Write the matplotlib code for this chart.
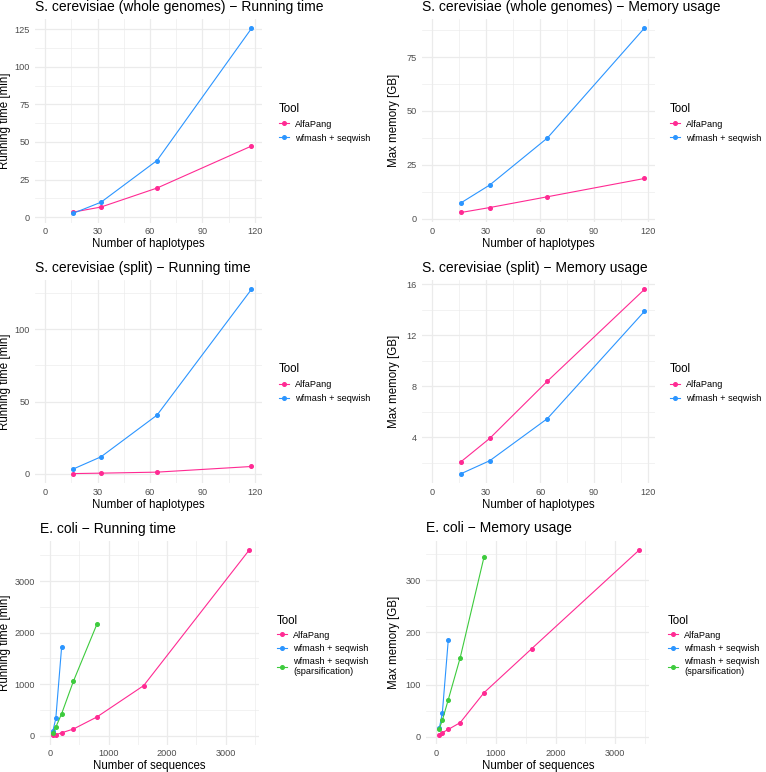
import matplotlib
matplotlib.use("Agg")
import matplotlib.pyplot as plt
import numpy as np

plt.rcParams['font.family'] = ['Liberation Sans', 'DejaVu Sans']

# ---------------- data ----------------
haplotypes = [16, 32, 64, 118]
whole_time_alfapang = [3.4, 6.8, 19.4, 47.3]
whole_time_wfmash = [2.6, 10.0, 37.7, 125.4]
whole_mem_alfapang = [2.8, 5.1, 10.1, 18.6]
whole_mem_wfmash = [7.3, 15.6, 37.4, 88.5]

split_time_alfapang = [0.2, 0.5, 1.2, 5.1]
split_time_wfmash = [3.3, 11.8, 40.6, 127.6]
split_mem_alfapang = [2.09, 3.92, 8.39, 15.58]
split_mem_wfmash = [1.15, 2.17, 5.46, 13.86]

ecoli_seqs_alfapang = [50, 100, 200, 400, 800, 1600, 3400]
ecoli_seqs_wfmash = [50, 100, 200]
ecoli_seqs_sparse = [50, 100, 200, 400, 800]
ecoli_time_alfapang = [8, 20, 58, 130, 363, 972, 3597]
ecoli_time_wfmash = [91, 337, 1730]
ecoli_time_sparse = [58, 168, 428, 1056, 2158]
ecoli_mem_alfapang = [3, 7.7, 14, 27, 84.5, 169, 358]
ecoli_mem_wfmash = [16.6, 44.8, 185.5]
ecoli_mem_sparse = [15.4, 31.4, 71, 151.6, 345]

tools = ["AlfaPang", "wfmash + seqwish", "wfmash + seqwish\n(sparsification)"]
colors = ["#FF2A93", "#2B95FF", "#3DCB3D"]

# ---------------- layout ----------------
W, H = 766, 772
fig = plt.figure(figsize=(W / 100, H / 100), dpi=100)
fig.patch.set_facecolor("white")

FS_TITLE, FS_AXT, FS_TICK = 10, 8.3, 6.6

def rect(l, r, t, b):
    return [l / W, 1 - b / H, (r - l) / W, (b - t) / H]

GRID = "#EBEBEB"
TICKC = "#4D4D4D"

def style(ax, xmaj, xmin_, ymaj, ymin_, xlabel, ylabel, title, xs, ylab_x, xlab_y, box):
    l, r, t, b = box
    ax.set_facecolor("white")
    for s in ax.spines.values():
        s.set_visible(False)
    allx = np.concatenate([np.asarray(v, float) for v in xs] + [np.array([0.0])])
    lo, hi = allx.min(), allx.max()
    pad = 0.05 * (hi - lo)
    ax.set_xlim(lo - pad, hi + pad)
    ax.set_xticks(xmaj)
    ax.set_xticks(xmin_, minor=True)
    ax.set_yticks(ymaj)
    ax.set_yticks(ymin_, minor=True)
    ax.grid(True, which="major", color=GRID, lw=0.9, zorder=0)
    ax.grid(True, which="minor", color=GRID, lw=0.45, zorder=0)
    ax.set_axisbelow(True)
    ax.tick_params(which="both", length=0, labelsize=FS_TICK, labelcolor=TICKC)
    ax.tick_params(axis="y", pad=3.8)
    ax.tick_params(axis="x", pad=3.5)
    ax.set_xlabel(xlabel, fontsize=FS_AXT, va="center")
    ax.xaxis.set_label_coords(0.5, -(xlab_y - b) / (b - t))
    ax.set_ylabel(ylabel, fontsize=FS_AXT, va="center")
    ax.yaxis.set_label_coords(-(l - ylab_x) / (r - l), 0.5)
    ax.set_title(title, loc="left", fontsize=FS_TITLE, pad=6)

def draw(ax, xs, ys, n):
    for i in range(n):
        ax.plot(xs[i], ys[i], color=colors[i], lw=0.8, marker="o", ms=2.6,
                label=tools[i], zorder=3)

def legend(ax, x, y, spacing):
    leg = ax.legend(loc="upper left", bbox_to_anchor=(x / W, 1 - y / H),
                    bbox_transform=fig.transFigure, frameon=False, title="Tool",
                    alignment="left", fontsize=FS_TICK, title_fontsize=FS_AXT,
                    handlelength=1.1, handletextpad=0.65, labelspacing=spacing,
                    borderpad=0, borderaxespad=0)
    for t in leg.get_texts():
        t.set_linespacing(1.1)
    return leg

xmaj_h = [0, 30, 60, 90, 120]
xmin_h = [15, 45, 75, 105]
xmaj_e = [0, 1000, 2000, 3000]
xmin_e = [500, 1500, 2500, 3500]

# Panel 1
box = (34.7, 261.8, 19.2, 222.6)
ax = fig.add_axes(rect(*box))
xs = [haplotypes, haplotypes]
draw(ax, xs, [whole_time_alfapang, whole_time_wfmash], 2)
style(ax, xmaj_h, xmin_h, [0, 25, 50, 75, 100, 125], [12.5, 37.5, 62.5, 87.5, 112.5],
      "Number of haplotypes", "Running time [min]",
      "S. cerevisiae (whole genomes) \u2212 Running time", xs, 5.0, 244.0, box)
legend(ax, 279, 102.5, 0.55)

# Panel 2
box = (421.7, 655.0, 18.9, 221.7)
ax = fig.add_axes(rect(*box))
draw(ax, xs, [whole_mem_alfapang, whole_mem_wfmash], 2)
style(ax, xmaj_h, xmin_h, [0, 25, 50, 75], [12.5, 37.5, 62.5, 87.5],
      "Number of haplotypes", "Max memory [GB]",
      "S. cerevisiae (whole genomes) \u2212 Memory usage", xs, 394.5, 244.0, box)
legend(ax, 670, 102.5, 0.55)

# Panel 3
box = (34.7, 261.8, 280.1, 482.8)
ax = fig.add_axes(rect(*box))
draw(ax, xs, [split_time_alfapang, split_time_wfmash], 2)
style(ax, xmaj_h, xmin_h, [0, 50, 100], [25, 75, 125],
      "Number of haplotypes", "Running time [min]",
      "S. cerevisiae (split) \u2212 Running time", xs, 5.0, 505.0, box)
legend(ax, 279, 363, 0.55)

# Panel 4
box = (421.7, 655.0, 280.2, 482.9)
ax = fig.add_axes(rect(*box))
draw(ax, xs, [split_mem_alfapang, split_mem_wfmash], 2)
style(ax, xmaj_h, xmin_h, [4, 8, 12, 16], [2, 6, 10, 14],
      "Number of haplotypes", "Max memory [GB]",
      "S. cerevisiae (split) \u2212 Memory usage", xs, 394.5, 505.0, box)
legend(ax, 670, 363, 0.55)

# Panel 5
box = (40.0, 259.0, 541.0, 744.6)
ax = fig.add_axes(rect(*box))
xs = [ecoli_seqs_alfapang, ecoli_seqs_wfmash, ecoli_seqs_sparse]
draw(ax, xs, [ecoli_time_alfapang, ecoli_time_wfmash, ecoli_time_sparse], 3)
style(ax, xmaj_e, xmin_e, [0, 1000, 2000, 3000], [500, 1500, 2500, 3500],
      "Number of sequences", "Running time [min]",
      "E. coli \u2212 Running time", xs, 5.0, 766, box)
legend(ax, 277, 614.5, 0.45)

# Panel 6
box = (426.2, 649.3, 540.8, 744.4)
ax = fig.add_axes(rect(*box))
draw(ax, xs, [ecoli_mem_alfapang, ecoli_mem_wfmash, ecoli_mem_sparse], 3)
style(ax, xmaj_e, xmin_e, [0, 100, 200, 300], [50, 150, 250, 350],
      "Number of sequences", "Max memory [GB]",
      "E. coli \u2212 Memory usage", xs, 394.5, 766, box)
legend(ax, 668, 614.5, 0.45)

fig.savefig("out.png", dpi=100, facecolor="white")
